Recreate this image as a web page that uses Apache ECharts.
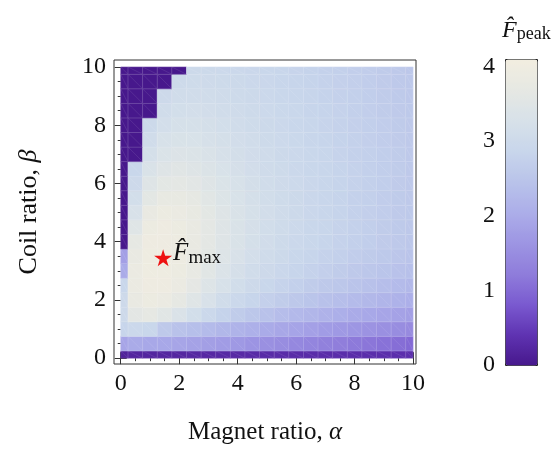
<!DOCTYPE html>
<html>
<head>
<meta charset="utf-8">
<script src="https://cdn.jsdelivr.net/npm/echarts@6/dist/echarts.min.js"></script>
<style>html,body{margin:0;padding:0;background:#fff}#c{width:556px;height:456px}</style>
</head>
<body>
<div id="c"></div>
<script>
// Grid of magnet ratio (alpha) and coil ratio (beta) sample points
var alphaValues = [0,0.5,1,1.5,2,2.5,3,3.5,4,4.5,5,5.5,6,6.5,7,7.5,8,8.5,9,9.5,10];
var betaValues  = [0,0.5,1,1.5,2,2.5,3,3.5,4,4.5,5,5.5,6,6.5,7,7.5,8,8.5,9,9.5,10];
// Peak force F_peak, one row per beta value (alpha left to right)
var fPeak = [
  [0.15,0.2,0.2,0.22,0.22,0.24,0.25,0.26,0.27,0.28,0.29,0.3,0.3,0.31,0.31,0.32,0.32,0.33,0.33,0.34,0.34],
  [1.9,2.0,1.95,1.95,1.9,1.85,1.8,1.75,1.7,1.62,1.55,1.5,1.42,1.36,1.3,1.25,1.2,1.15,1.1,1.05,1.0],
  [2.85,2.95,2.9,2.6,2.45,2.38,2.3,2.22,2.15,2.08,2.0,1.94,1.88,1.82,1.76,1.7,1.65,1.6,1.55,1.5,1.45],
  [3.0,3.6,3.7,3.55,3.35,3.15,2.95,2.8,2.65,2.55,2.45,2.35,2.27,2.2,2.13,2.06,2.0,1.95,1.9,1.85,1.8],
  [3.0,3.8,3.9,3.85,3.7,3.5,3.3,3.1,2.95,2.85,2.75,2.65,2.57,2.5,2.43,2.36,2.3,2.24,2.18,2.12,2.06],
  [2.9,3.85,3.95,3.95,3.85,3.65,3.45,3.28,3.12,3.0,2.9,2.81,2.73,2.66,2.6,2.54,2.48,2.42,2.36,2.3,2.25],
  [2.0,3.85,3.98,3.98,3.9,3.75,3.56,3.38,3.22,3.1,3.0,2.92,2.85,2.78,2.72,2.66,2.6,2.55,2.5,2.45,2.4],
  [1.8,3.8,3.98,4.0,3.93,3.8,3.62,3.45,3.3,3.17,3.07,2.98,2.91,2.85,2.79,2.74,2.68,2.63,2.58,2.53,2.48],
  [0.0,3.7,3.95,3.97,3.92,3.8,3.63,3.47,3.33,3.21,3.11,3.02,2.95,2.89,2.84,2.79,2.74,2.69,2.64,2.59,2.54],
  [0.0,3.5,3.9,3.95,3.9,3.79,3.63,3.48,3.34,3.22,3.12,3.04,2.97,2.91,2.86,2.81,2.76,2.71,2.66,2.61,2.56],
  [0.0,3.3,3.8,3.9,3.86,3.76,3.61,3.47,3.34,3.23,3.13,3.05,2.98,2.92,2.87,2.82,2.77,2.72,2.67,2.62,2.58],
  [0.0,3.15,3.62,3.76,3.76,3.68,3.55,3.43,3.31,3.21,3.12,3.04,2.98,2.92,2.87,2.82,2.77,2.73,2.68,2.63,2.59],
  [0.0,3.0,3.47,3.62,3.64,3.58,3.48,3.37,3.27,3.18,3.1,3.03,2.97,2.92,2.87,2.82,2.78,2.73,2.69,2.64,2.6],
  [0.0,2.9,3.33,3.48,3.52,3.48,3.4,3.31,3.22,3.14,3.07,3.01,2.96,2.91,2.86,2.82,2.78,2.73,2.69,2.65,2.6],
  [0.0,0.0,3.2,3.37,3.41,3.39,3.33,3.26,3.18,3.11,3.05,2.99,2.94,2.9,2.86,2.81,2.77,2.73,2.69,2.65,2.6],
  [0.0,0.0,3.08,3.27,3.32,3.31,3.26,3.2,3.14,3.08,3.02,2.97,2.93,2.88,2.84,2.8,2.76,2.72,2.68,2.64,2.6],
  [0.0,0.0,2.98,3.17,3.23,3.23,3.2,3.15,3.1,3.04,2.99,2.95,2.91,2.87,2.83,2.79,2.75,2.71,2.67,2.63,2.59],
  [0.0,0.0,0.0,3.08,3.15,3.16,3.14,3.1,3.05,3.01,2.97,2.93,2.89,2.85,2.82,2.78,2.74,2.7,2.66,2.62,2.58],
  [0.0,0.0,0.0,3.0,3.08,3.1,3.08,3.05,3.01,2.98,2.94,2.9,2.87,2.84,2.8,2.77,2.73,2.69,2.65,2.61,2.57],
  [0.0,0.0,0.0,0.0,3.02,3.04,3.03,3.01,2.98,2.95,2.92,2.88,2.85,2.82,2.79,2.75,2.72,2.68,2.64,2.6,2.56],
  [0.0,0.0,0.0,0.0,0.0,2.98,2.98,2.97,2.95,2.92,2.89,2.86,2.83,2.8,2.77,2.74,2.7,2.67,2.63,2.59,2.55]
];
// Location of the maximum
var maxPoint = [1.45, 3.45];
// Tick labels
var axisMajorTicks = [0,2,4,6,8,10];
var axisMinorTicks = [0,0.5,1,1.5,2,2.5,3,3.5,4,4.5,5,5.5,6,6.5,7,7.5,8,8.5,9,9.5,10];
var barTicks = [0,1,2,3,4];
var colorStops = ['#47188c','#5f33b2','#7a5ad0','#8f7ddb','#9d95e3','#acaee9','#b9c3ea','#c8d6eb','#d7e1e9','#e6e8e3','#f2ede0'];

var cellData = [];
for (var j = 0; j < betaValues.length; j++) {
  for (var i = 0; i < alphaValues.length; i++) {
    cellData.push([alphaValues[i], betaValues[j], fPeak[j][i]]);
  }
}
var halfStep = 0.25, lo = 0, hi = 10;
var FONT = 'Liberation Serif';
var TXT = '#111';

function frameAxis(kind, pos, ticks, len, labels) {
  var o = {
    type: 'value', gridIndex: 0, position: pos,
    min: kind === 'x' ? -0.23 : -0.2,
    max: kind === 'x' ? 10.1 : 10.24,
    axisLine: {show: false}, splitLine: {show: false},
    axisTick: {show: true, inside: true, length: len, customValues: ticks, lineStyle: {color: '#333', width: 1}},
    axisLabel: labels ? {show: true, customValues: axisMajorTicks, fontFamily: FONT, fontSize: 24, color: TXT, margin: 8} : {show: false}
  };
  return o;
}

var chart = echarts.init(document.getElementById('c'), null, {renderer: 'canvas'});
var xMain = frameAxis('x', 'bottom', axisMajorTicks, 6, true);
xMain.name = '{r|Magnet ratio, }{i|α}';
xMain.nameLocation = 'middle';
xMain.nameGap = 56;
xMain.nameTextStyle = {rich: {r: {fontFamily: FONT, fontSize: 25, color: TXT}, i: {fontFamily: FONT, fontStyle: 'italic', fontSize: 25, color: TXT}}};
var yMain = frameAxis('y', 'left', axisMajorTicks, 6, true);
yMain.name = '{r|Coil ratio, }{i|β}';
yMain.nameLocation = 'middle';
yMain.nameGap = 72;
yMain.nameTextStyle = {rich: {r: {fontFamily: FONT, fontSize: 26, color: TXT}, i: {fontFamily: FONT, fontStyle: 'italic', fontSize: 26, color: TXT}}};

chart.setOption({
  animation: false,
  backgroundColor: '#fff',
  title: {
    left: 497, top: 12,
    text: '{f|F\u0302}{s|peak}',
    textStyle: {fontWeight: 'normal', rich: {
      f: {fontFamily: FONT, fontStyle: 'italic', fontWeight: 'normal', fontSize: 24, color: TXT, height: 27, verticalAlign: 'top'},
      s: {fontFamily: FONT, fontWeight: 'normal', fontSize: 18, color: TXT, height: 35, verticalAlign: 'bottom'}
    }}
  },
  grid: [
    {left: 114, top: 60, width: 302, height: 304, show: true, borderColor: '#333', borderWidth: 1, backgroundColor: 'transparent', containLabel: false},
    {left: 505, top: 59, width: 32, height: 306, show: false, containLabel: false}
  ],
  xAxis: [
    xMain,
    frameAxis('x', 'bottom', axisMinorTicks, 3, false),
    frameAxis('x', 'top', axisMajorTicks, 6, false),
    frameAxis('x', 'top', axisMinorTicks, 3, false),
    {type: 'value', gridIndex: 1, show: false, min: 0, max: 1}
  ],
  yAxis: [
    yMain,
    frameAxis('y', 'left', axisMinorTicks, 3, false),
    frameAxis('y', 'right', axisMajorTicks, 6, false),
    frameAxis('y', 'right', axisMinorTicks, 3, false),
    {type: 'value', gridIndex: 1, position: 'left', min: 0, max: 4.1,
     axisLine: {show: false}, splitLine: {show: false}, axisTick: {show: false},
     axisLabel: {customValues: barTicks, fontFamily: FONT, fontSize: 24, color: TXT, margin: 10}}
  ],
  visualMap: {
    type: 'continuous', seriesIndex: 0, dimension: 2, min: 0, max: 4.1,
    calculable: false, realtime: false, hoverLink: false,
    orient: 'vertical', left: 505, top: 59, itemWidth: 32, itemHeight: 306,
    padding: 0, borderColor: '#222', borderWidth: 1,
    inRange: {color: colorStops},
    textStyle: {color: 'transparent'}
  },
  series: [
    {
      type: 'custom', xAxisIndex: 0, yAxisIndex: 0,
      encode: {x: 0, y: 1},
      data: cellData,
      renderItem: function (params, api) {
        var a = api.value(0), b = api.value(1);
        var p0 = api.coord([Math.max(a - halfStep, lo), Math.min(b + halfStep, hi)]);
        var p1 = api.coord([Math.min(a + halfStep, hi), Math.max(b - halfStep, lo)]);
        var c = api.visual('color');
        return {
          type: 'group',
          children: [
            {type: 'rect', shape: {x: p0[0], y: p0[1], width: p1[0] - p0[0], height: p1[1] - p0[1]},
             style: {fill: c, stroke: c, lineWidth: 0.5}},
            {type: 'rect', shape: {x: p0[0], y: p0[1], width: p1[0] - p0[0], height: p1[1] - p0[1]},
             style: {fill: 'none', stroke: 'rgba(255,255,255,0.2)', lineWidth: 0.6}},
            {type: 'line', shape: {x1: p0[0], y1: p0[1], x2: p1[0], y2: p1[1]},
             style: {stroke: 'rgba(255,255,255,0.15)', lineWidth: 0.6}}
          ]
        };
      }
    },
    {
      type: 'scatter', xAxisIndex: 0, yAxisIndex: 0,
      data: [maxPoint],
      symbol: 'path://M50,0 L61,35 L98,35 L68,57 L79,91 L50,70 L21,91 L32,57 L2,35 L39,35 Z',
      symbolSize: [18, 17],
      itemStyle: {color: '#ee1111', opacity: 1},
      z: 5,
      label: {
        show: true, position: 'right', distance: 1,
        formatter: '{f|F\u0302}{s|max}',
        rich: {
          f: {fontFamily: FONT, fontStyle: 'italic', fontSize: 25, color: TXT, height: 28, verticalAlign: 'top'},
          s: {fontFamily: FONT, fontSize: 19, color: TXT, height: 37, verticalAlign: 'bottom'}
        }
      }
    }
  ]
});
</script>
</body>
</html>
